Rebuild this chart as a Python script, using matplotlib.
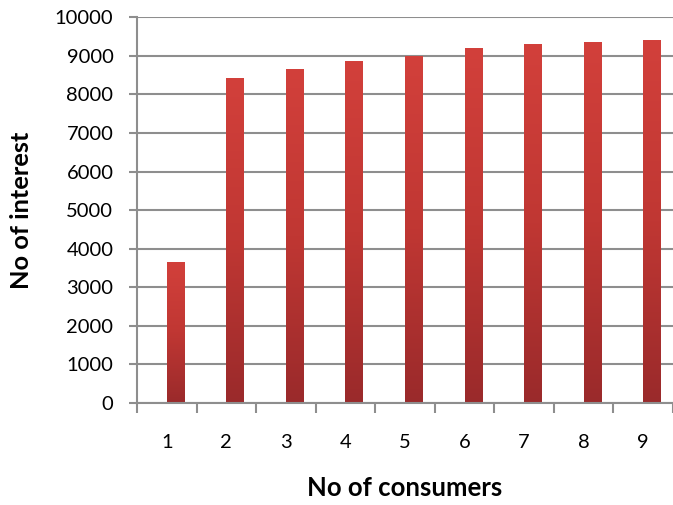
import matplotlib
matplotlib.use("Agg")
import matplotlib.pyplot as plt
import numpy as np
from matplotlib.colors import LinearSegmentedColormap

consumers = [1, 2, 3, 4, 5, 6, 7, 8, 9]
interest = [3650, 8415, 8640, 8865, 8990, 9190, 9300, 9355, 9395]

plt.rcParams["font.family"] = ["Lato", "DejaVu Sans"]

fig = plt.figure(figsize=(6.73, 5.05), dpi=100)
ax = fig.add_axes([137 / 673, 102 / 505, 536 / 673, 385.7 / 505])

grid_col = "#8e8e8e"
bar_w = 0.29
cmap = LinearSegmentedColormap.from_list("redgrad", ["#9a2a2b", "#c03733", "#d2403b"])
grad = np.linspace(0, 1, 256).reshape(-1, 1)

bars = ax.bar(consumers, interest, width=bar_w, align="edge", color="none",
              edgecolor="none", zorder=3)
for b in bars:
    x0, y0 = b.get_x(), b.get_y()
    ax.imshow(grad, cmap=cmap, aspect="auto", origin="lower",
              extent=[x0, x0 + b.get_width(), y0, y0 + b.get_height()],
              zorder=3)

ax.set_xlim(0.5, 0.5 + 536 / 60.3)
ax.set_ylim(0, 10000)
ax.set_yticks(np.arange(0, 10001, 1000))
ax.yaxis.grid(True, color=grid_col, linewidth=1.5, zorder=0)
ax.set_axisbelow(True)

ax.set_xticks(np.arange(0.5, 9.6, 1.0))
ax.set_xticklabels([])
ax.set_xticks(consumers, minor=True)
ax.set_xticklabels([str(c) for c in consumers], minor=True)
ax.tick_params(axis="x", which="minor", length=0, pad=22, labelsize=14.5)
ax.tick_params(axis="x", which="major", length=7, width=1.5, color=grid_col)
ax.tick_params(axis="y", length=6, width=1.5, color=grid_col, labelsize=14.5, pad=11)

for s in ["top", "right"]:
    ax.spines[s].set_visible(False)
for s in ["left", "bottom"]:
    ax.spines[s].set_color(grid_col)
    ax.spines[s].set_linewidth(1.5)
    ax.spines[s].set_zorder(4)

ax.set_xlabel("No of consumers", fontsize=18.5, fontweight="bold", labelpad=18)
ax.set_ylabel("No of interest", fontsize=18.3, fontweight="bold", labelpad=16)

fig.savefig("out.png", dpi=100)
